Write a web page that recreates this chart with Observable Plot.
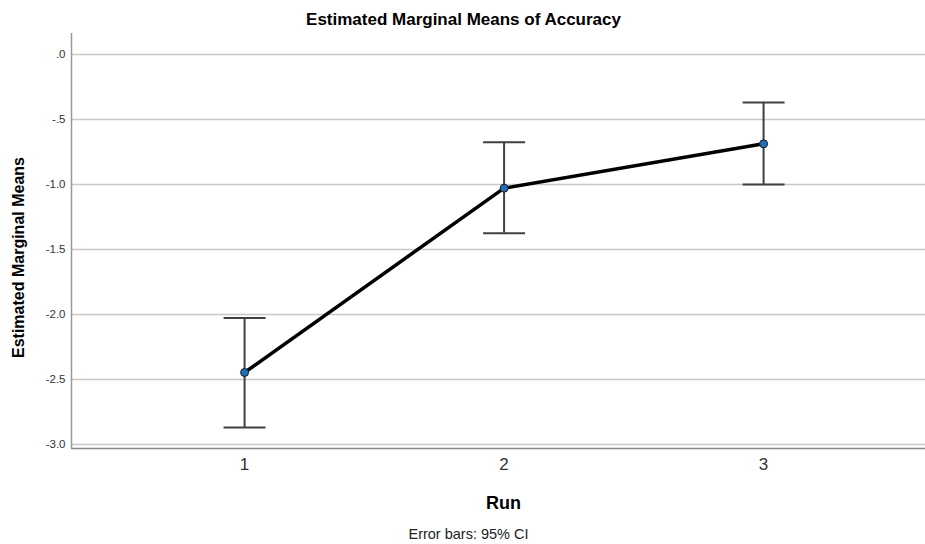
<!DOCTYPE html>
<html>
<head>
<meta charset="utf-8">
<script src="https://cdn.jsdelivr.net/npm/d3@7"></script>
<script src="https://cdn.jsdelivr.net/npm/@observablehq/plot@0.6"></script>
<style>
  body { margin: 0; background: #fff; }
  #chart svg { display: block; }
</style>
</head>
<body>
<div id="chart"></div>
<script>
// Data
const runs = [1, 2, 3];
const means = [-2.446, -1.028, -0.687];
const ciLow = [-2.869, -1.374, -1.000];
const ciHigh = [-2.026, -0.674, -0.369];
const yTicks = [0, -0.5, -1.0, -1.5, -2.0, -2.5, -3.0];
const yTickLabels = [".0", "-.5", "-1.0", "-1.5", "-2.0", "-2.5", "-3.0"];
const xTicks = [1, 2, 3];
const xTickLabels = ["1", "2", "3"];
const titleText = "Estimated Marginal Means of Accuracy";
const xLabel = "Run";
const yLabel = "Estimated Marginal Means";
const captionText = "Error bars: 95% CI";

const data = runs.map((r, i) => ({run: r, mean: means[i], lo: ciLow[i], hi: ciHigh[i]}));

const xDomain = [0.333, 3.624];
const yDomain = [-3.031, 0.162];

const capSymbol = {
  draw(context) {
    context.moveTo(-21, 0);
    context.lineTo(21, 0);
  }
};

const font = "'Liberation Sans', Arial, Helvetica, sans-serif";

const chart = Plot.plot({
  width: 925,
  height: 544,
  marginTop: 33,
  marginBottom: 96,
  marginLeft: 71,
  marginRight: 0,
  style: {fontFamily: font, background: "#fff", color: "#000"},
  x: {domain: xDomain},
  y: {domain: yDomain},
  marks: [
    Plot.ruleY(yTicks, {stroke: "#c8c8c8", strokeWidth: 1.5}),
    Plot.ruleY([yDomain[0]], {stroke: "#888", strokeWidth: 1.5}),
    Plot.ruleX([xDomain[0]], {stroke: "#999", strokeWidth: 1.5}),
    Plot.axisY({ticks: yTicks, tickSize: 0, tickPadding: 6, fontSize: 11.5, fill: "#333",
      tickFormat: d => yTickLabels[yTicks.indexOf(d)], label: null}),
    Plot.axisX({ticks: xTicks, tickSize: 0, tickPadding: 9, fontSize: 17, fill: "#333",
      tickFormat: d => xTickLabels[xTicks.indexOf(d)], label: null}),
    Plot.ruleX(data, {x: "run", y1: "lo", y2: "hi", stroke: "#404040", strokeWidth: 2}),
    Plot.dot(data, {x: "run", y: "lo", symbol: capSymbol, stroke: "#404040", strokeWidth: 2}),
    Plot.dot(data, {x: "run", y: "hi", symbol: capSymbol, stroke: "#404040", strokeWidth: 2}),
    Plot.line(data, {x: "run", y: "mean", stroke: "#000", strokeWidth: 3.5}),
    Plot.dot(data, {x: "run", y: "mean", r: 4, fill: "#1f6fb8", stroke: "#1a1a1a", strokeWidth: 1}),
    Plot.text([titleText], {frameAnchor: "top", dx: -35, dy: -21, fontSize: 17, fontWeight: "bold", fill: "#000"}),
    Plot.text([xLabel], {frameAnchor: "bottom", dx: 5, dy: 60, fontSize: 18, fontWeight: "bold", fill: "#000"}),
    Plot.text([captionText], {frameAnchor: "bottom", dx: -30, dy: 90, fontSize: 14.5, fill: "#222"}),
    Plot.text([yLabel], {frameAnchor: "left", textAnchor: "middle", rotate: -90, dx: -53, dy: 16.5, fontSize: 16, fontWeight: "bold", fill: "#000"})
  ]
});

document.getElementById("chart").appendChild(chart);
</script>
</body>
</html>
